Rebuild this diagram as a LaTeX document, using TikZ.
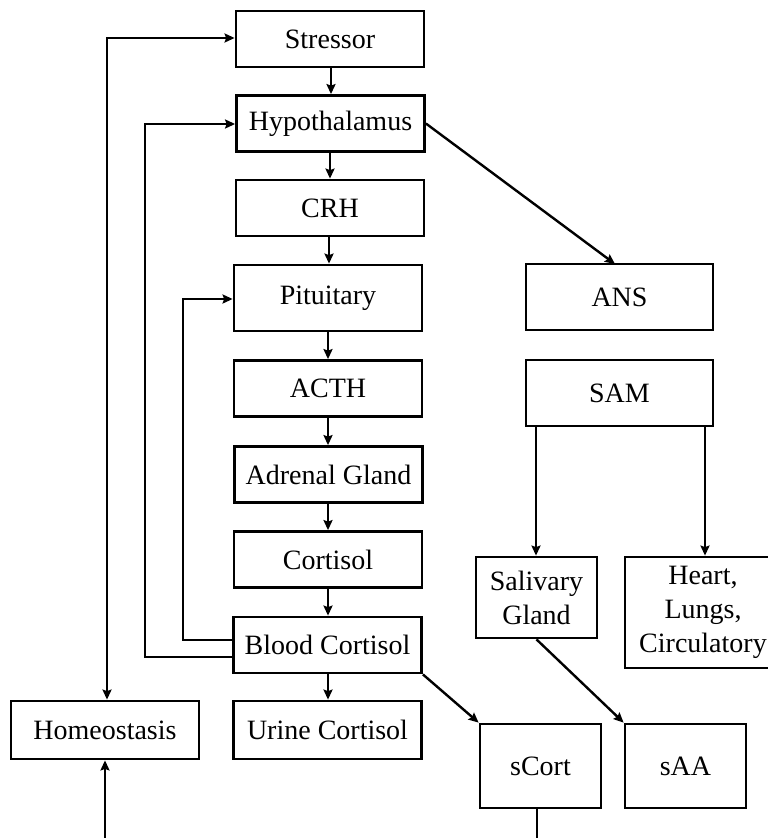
\documentclass[tikz,border=0pt]{standalone}
\usepackage{fontspec}
\setmainfont{Liberation Serif}
\usetikzlibrary{arrows.meta}
\begin{document}
\begin{tikzpicture}[x=1pt,y=-1pt,
  box/.style={draw, line width=2.8pt, inner sep=0pt, align=center,
    font=\fontsize{28}{34}\selectfont, minimum width=188pt, minimum height=56pt},
  tip/.tip={Stealth[length=10pt,width=9pt,inset=1.5pt]},
  link/.style={line width=2.4pt, -tip},
  plain/.style={line width=2.4pt}]
\useasboundingbox (0,0) rectangle (768,838);

% HPA axis column
\node[box] (stressor) at (330,39) {Stressor};
\node[box] (hypo) at (330.5,123.5) {Hypothalamus};
\node[box] (crh) at (330,208) {CRH};
\node[box, minimum height=66pt] (pit) at (328,298) {Pituitary};
\node[box] (acth) at (328,388.5) {ACTH};
\node[box] (adrenal) at (328.5,474.5) {Adrenal Gland};
\node[box] (cort) at (328,559.5) {Cortisol};
\node[box] (blood) at (327.5,645) {Blood Cortisol};
\node[box, minimum height=58pt] (urine) at (327.5,730) {Urine Cortisol};
\node[box, minimum height=58pt] (homeo) at (105,730) {Homeostasis};

% sympathetic branch
\node[box, minimum width=187pt, minimum height=66pt] (ans) at (619.5,297) {ANS};
\node[box, minimum width=187pt, minimum height=66pt] (sam) at (619.5,393) {SAM};
\node[box, minimum width=121pt, minimum height=81pt] (saliv) at (536.5,597.5) {Salivary\\Gland};
\node[box, minimum width=156pt, minimum height=111pt] (heart) at (703,612.5) {Heart,\\Lungs,\\Circulatory};
\node[box, minimum width=121pt, minimum height=84pt] (scort) at (540.5,766) {sCort};
\node[box, minimum width=121pt, minimum height=84pt] (saa) at (685.5,766) {sAA};

% open ends at the lower edge
\coordinate (hbot) at (105,838);
\coordinate (sbot) at (537,838);

% main cascade
\draw[link] (stressor.south -| 331,0) -- (hypo.north -| 331,0);
\draw[link] (hypo.south -| 330,0) -- (crh.north -| 330,0);
\draw[link] (crh.south -| 329,0) -- (pit.north -| 329,0);
\foreach \a/\b in {pit/acth, acth/adrenal, adrenal/cort, cort/blood, blood/urine}
  \draw[link] (\a.south -| 328,0) -- (\b.north -| 328,0);

% hypothalamus to ANS
\draw[link] (hypo.east) -- (615,264);

% SAM outputs
\draw[link] (sam.south -| 536,0) -- (saliv.north -| 536,0);
\draw[link] (sam.south -| 705,0) -- (heart.north -| 705,0);

% salivary outputs
\draw[link] (saliv.south) -- (saa.north west);
\draw[link] (blood.south east) -- (scort.north west);

% negative feedback loops
\draw[link] (blood.west |- 0,640) -- (183,640) -- (183,299) -- (pit.west |- 0,299);
\draw[link] (blood.west |- 0,657) -- (145,657) -- (145,124) -- (hypo.west |- 0,124);

% stressor / homeostasis loop
\draw[line width=2.4pt, tip-tip] (homeo.north -| 107,0) -- (107,38) -- (stressor.west |- 0,38);
\draw[link] (hbot) -- (homeo.south);
\draw[plain] (scort.south -| sbot) -- (sbot);
\end{tikzpicture}
\end{document}
